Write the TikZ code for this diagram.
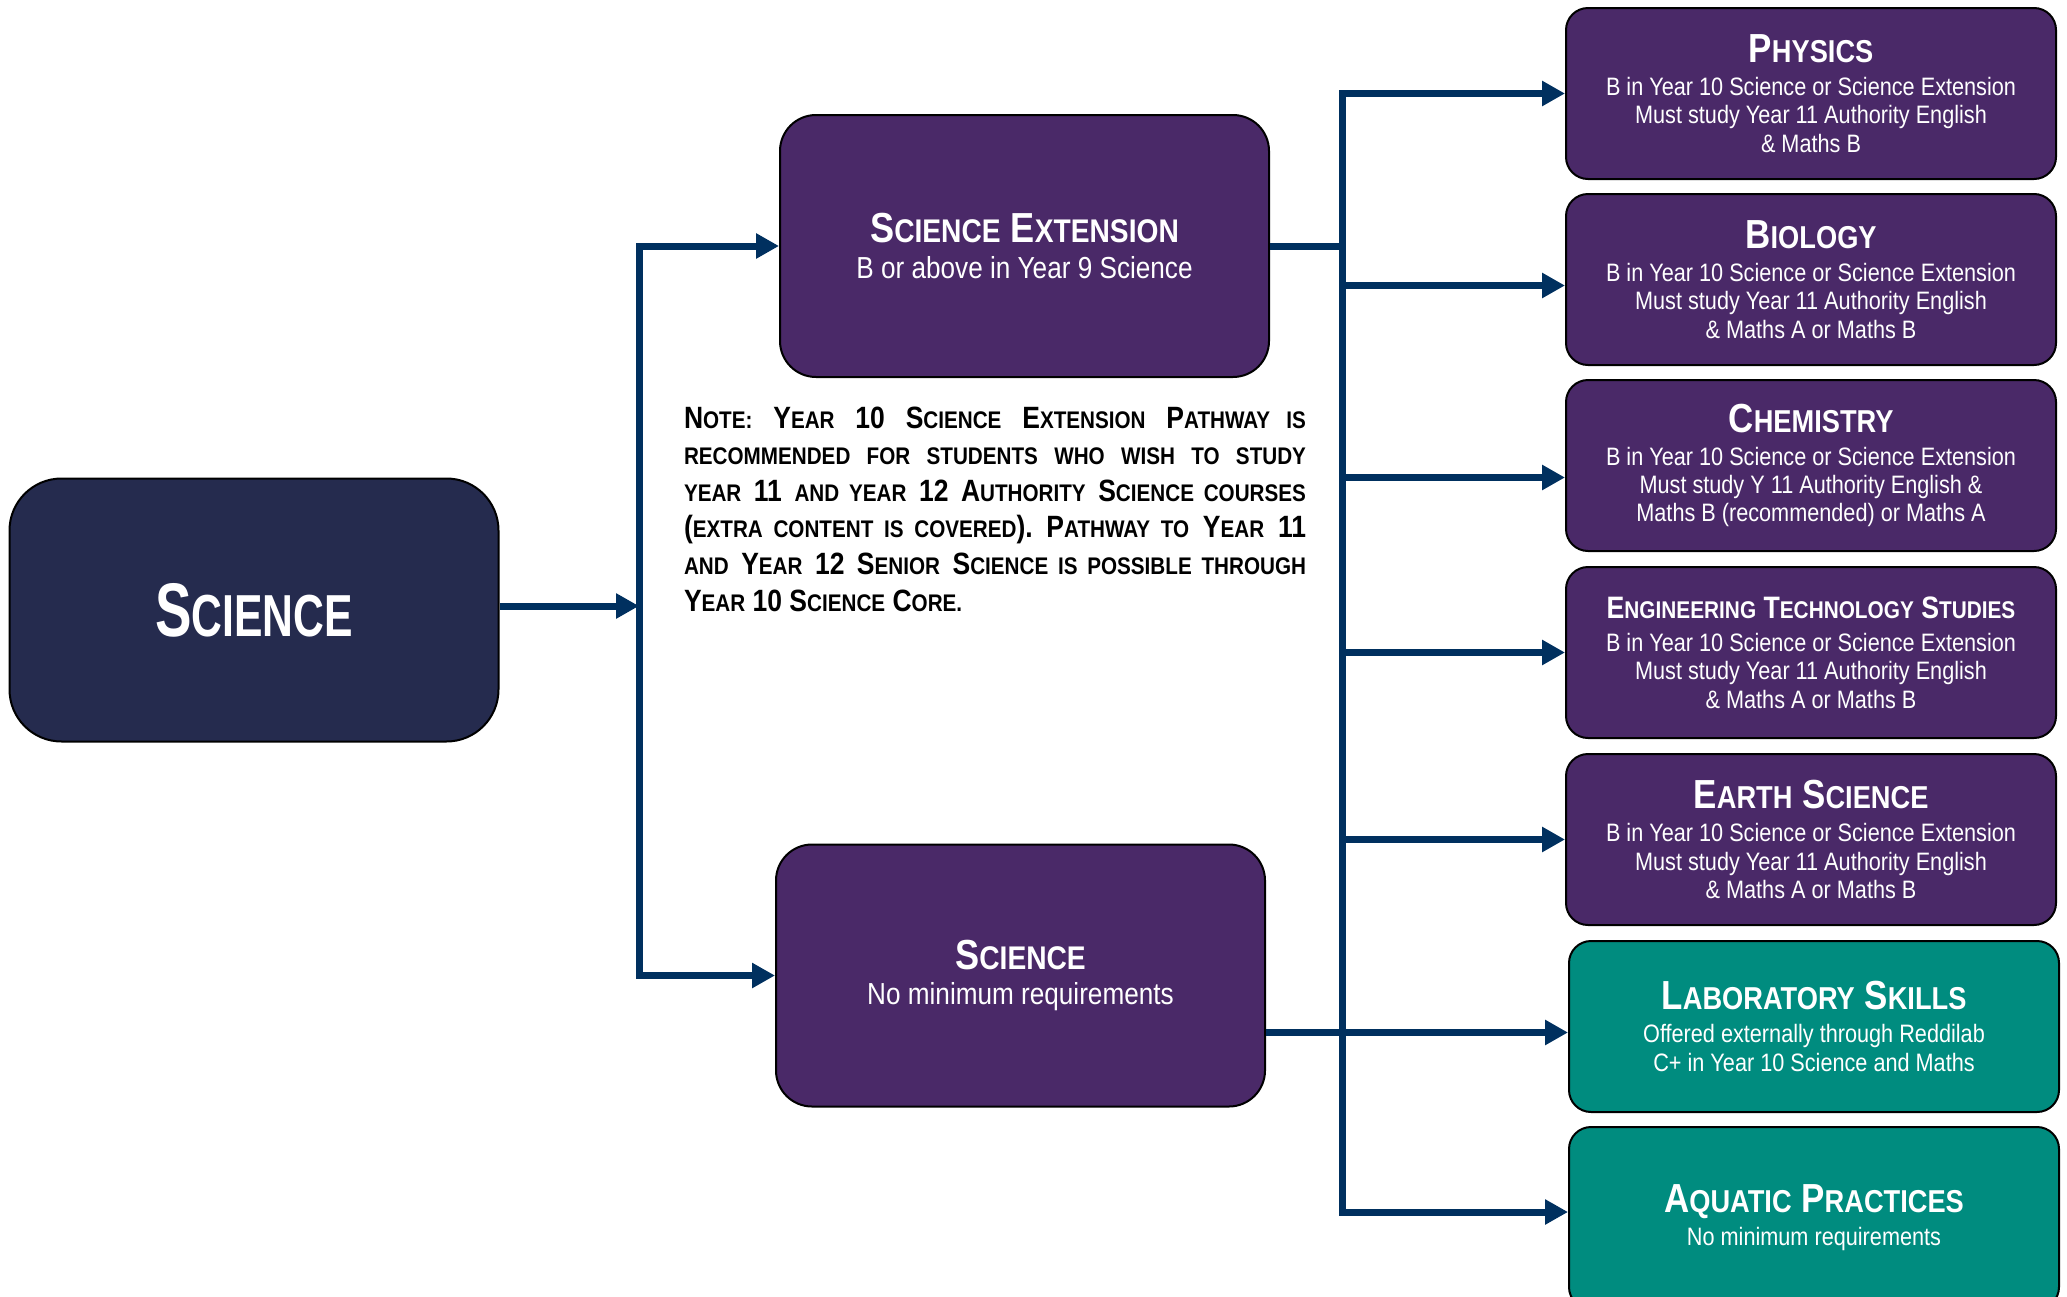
\documentclass[tikz,border=0pt]{standalone}
\usepackage{fontspec}
\setmainfont{Liberation Sans}[FakeStretch=0.86]
\newfontfamily\narrowfont{Liberation Sans}[FakeStretch=0.72]
\usetikzlibrary{arrows.meta}
\definecolor{navybox}{HTML}{252B4E}
\definecolor{purplebox}{HTML}{4A2968}
\definecolor{tealbox}{HTML}{008C7F}
\definecolor{linkblue}{HTML}{00305F}
\makeatletter
\newcommand\lc[1]{{\fontsize{\fpeval{0.78*\f@size}}{\f@baselineskip}\selectfont #1}}
\makeatother
\newcommand\hd[2][20.3]{{\fontsize{#1}{16}\selectfont\bfseries #2}}
\begin{document}
\begin{tikzpicture}[x=0.5pt, y=-0.5pt,
    box/.style={draw=black, line width=1pt, text=white, align=center},
    mainbox/.style={box, fill=navybox, minimum width=244.5pt, minimum height=131.5pt, rounded corners=26pt},
    midbox/.style={box, fill=purplebox, minimum width=244.5pt, minimum height=131pt, rounded corners=18pt,
        font=\fontsize{15.2}{17.8}\selectfont},
    subj/.style={box, fill=purplebox, minimum width=245pt, minimum height=85.5pt, rounded corners=11pt,
        font=\fontsize{12.6}{14.2}\selectfont},
    extra/.style={subj, fill=tealbox},
    notetext/.style={text width=311pt, align=justify, font=\fontsize{15.4}{18.3}\selectfont\bfseries},
    conn/.style={draw=linkblue, line width=3.5pt, line join=miter},
    tip/.style={-{Triangle[length=11.5pt,width=12pt]}},
    tips/.style={{Triangle[length=11.5pt,width=12pt]}-{Triangle[length=11.5pt,width=12pt]}}]
\clip (0,0) rectangle (2067,1296);

\node[mainbox] (sci) at (254,610) {\narrowfont\hd[38]{S\lc{CIENCE}}};
\node[midbox] (ext) at (1024.5,246) {\hd[21]{S\lc{CIENCE} E\lc{XTENSION}}\\ B or above in Year 9 Science};
\node[midbox] (core) at (1020.5,975.5) {\hd[21]{S\lc{CIENCE}}\\ No minimum requirements};

\node[notetext] (note) at (995,509) {N\lc{OTE:} Y\lc{EAR} 10 S\lc{CIENCE} E\lc{XTENSION} P\lc{ATHWAY IS}\linebreak
    \lc{RECOMMENDED FOR STUDENTS WHO WISH TO STUDY}\linebreak
    \lc{YEAR} 11 \lc{AND YEAR} 12 A\lc{UTHORITY} S\lc{CIENCE COURSES}\linebreak
    (\lc{EXTRA CONTENT IS COVERED}). P\lc{ATHWAY TO} Y\lc{EAR} 11\linebreak
    \lc{AND} Y\lc{EAR} 12 S\lc{ENIOR} S\lc{CIENCE IS POSSIBLE THROUGH}\linebreak
    Y\lc{EAR} 10 S\lc{CIENCE} C\lc{ORE.}};

\node[subj] (phys) at (1811,93.5) {\hd{P\lc{HYSICS}}\\[2.3pt] B in Year 10 Science or Science Extension\\ Must study Year 11 Authority English\\ \& Maths B};
\node[subj] (bio) at (1811,279.5) {\hd{B\lc{IOLOGY}}\\[2.3pt] B in Year 10 Science or Science Extension\\ Must study Year 11 Authority English\\ \& Maths A or Maths B};
\node[subj] (chem) at (1811,465.5) {\hd{C\lc{HEMISTRY}}\\[2.3pt] B in Year 10 Science or Science Extension\\ Must study Y 11 Authority English \&\\ Maths B (recommended) or Maths A};
\node[subj] (eng) at (1811,652.5) {\hd[15.5]{E\lc{NGINEERING} T\lc{ECHNOLOGY} S\lc{TUDIES}}\\[2.3pt] B in Year 10 Science or Science Extension\\ Must study Year 11 Authority English\\ \& Maths A or Maths B};
\node[subj] (earth) at (1811,839.5) {\hd{E\lc{ARTH} S\lc{CIENCE}}\\[2.3pt] B in Year 10 Science or Science Extension\\ Must study Year 11 Authority English\\ \& Maths A or Maths B};
\node[extra] (lab) at (1814,1026.5) {\hd{L\lc{ABORATORY} S\lc{KILLS}}\\[2.3pt] Offered externally through Reddilab\\ C+ in Year 10 Science and Maths};
\node[extra, minimum height=91pt] (aqua) at (1814,1218) {\hd{A\lc{QUATIC} P\lc{RACTICES}}\\[2.3pt] No minimum requirements};

\coordinate (split) at (639,246);
\coordinate (bus) at (1342,0);

\draw[conn, tip] ([yshift=2pt]sci.east) -- ([yshift=2pt]sci.east -| split);
\draw[conn, tips] (ext.west) -- (split) -- (split |- core.west) -- (core.west);
\draw[conn] (ext.east) -- (ext.east -| bus);
\draw[conn, tips] (phys.west) -- (phys.west -| bus) -- ([yshift=3pt]aqua.west -| bus) -- ([yshift=3pt]aqua.west);
\draw[conn, tip] ([yshift=-3pt]bio.west -| bus) -- ([yshift=-3pt]bio.west);
\draw[conn, tip] ([yshift=-6pt]chem.west -| bus) -- ([yshift=-6pt]chem.west);
\foreach \n in {eng, earth}
    \draw[conn, tip] (\n.west -| bus) -- (\n.west);
\draw[conn, tip] ([yshift=-3pt]lab.west -| core.east) -- ([yshift=-3pt]lab.west);
\end{tikzpicture}
\end{document}
